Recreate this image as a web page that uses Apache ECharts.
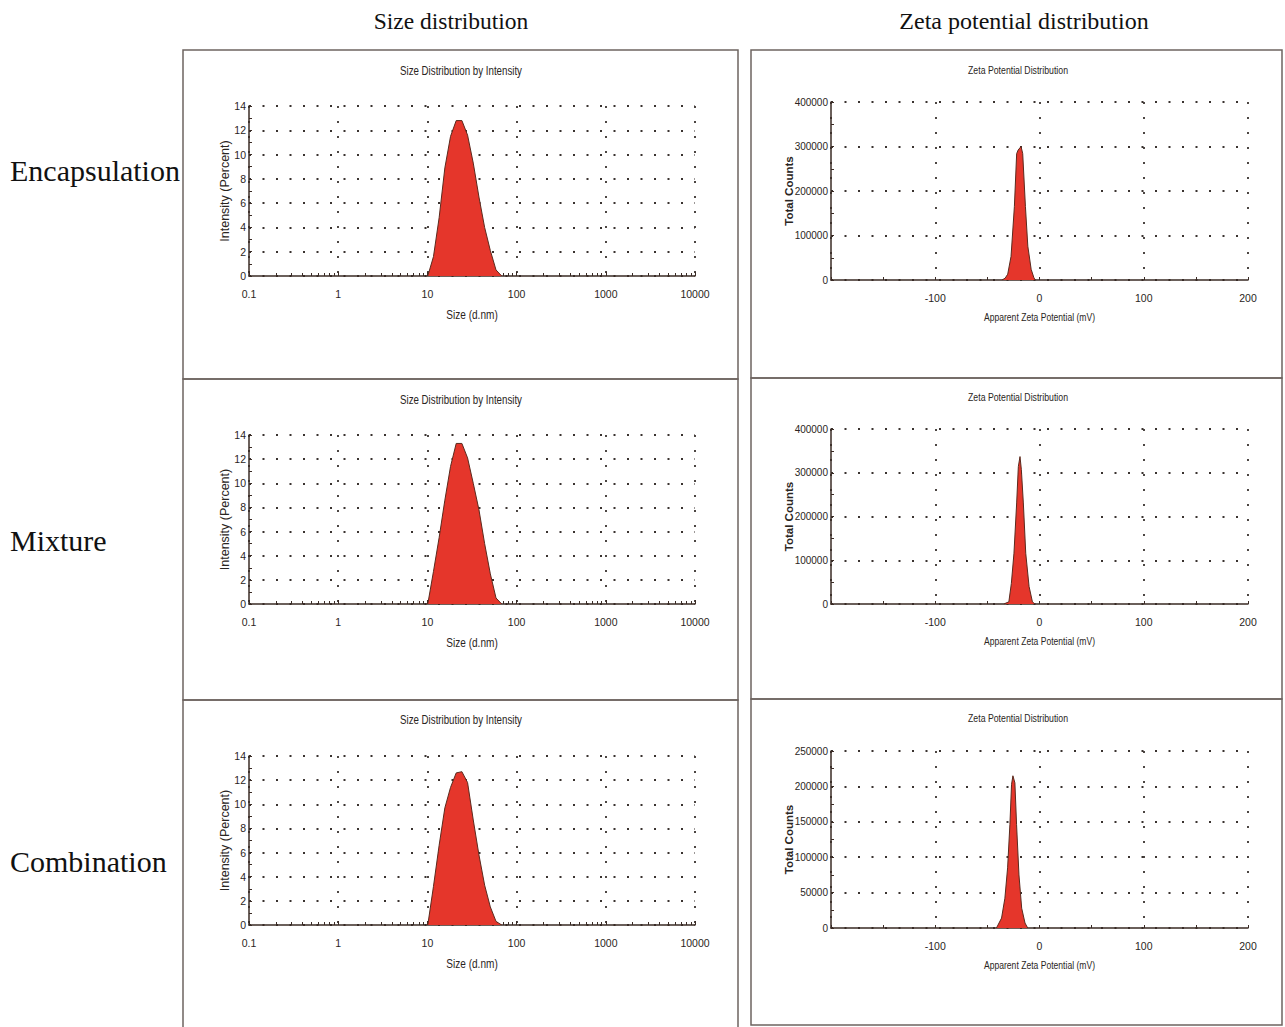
<!DOCTYPE html>
<html>
<head>
<meta charset="utf-8">
<script src="https://cdn.jsdelivr.net/npm/echarts@6/dist/echarts.min.js"></script>
<style>
  html, body { margin: 0; padding: 0; background: #ffffff; }
  #chart { width: 1285px; height: 1027px; }
</style>
</head>
<body>
<div id="chart"></div>
<script>
// ---------------- DATA ----------------
const columnHeaders = ['Size distribution', 'Zeta potential distribution'];
const rowLabels = ['Encapsulation', 'Mixture', 'Combination'];
const sizeTitle = 'Size Distribution by Intensity';
const zetaTitle = 'Zeta Potential Distribution';
const sizeXName = 'Size (d.nm)';
const sizeYName = 'Intensity (Percent)';
const zetaXName = 'Apparent Zeta Potential (mV)';
const zetaYName = 'Total Counts';

const sizeTickLabels = ['0.1', '1', '10', '100', '1000', '10000'];
const sizeMinorTicks = [0.2,0.3,0.4,0.5,0.6,0.7,0.8,0.9, 2,3,4,5,6,7,8,9, 20,30,40,50,60,70,80,90,
  200,300,400,500,600,700,800,900, 2000,3000,4000,5000,6000,7000,8000,9000];

// size bins (d.nm) and intensity (%)
const sizeBins = [10.1, 11.7, 13.54, 15.69, 18.17, 21.04, 24.36, 28.21, 32.67, 37.84, 43.82, 50.75, 58.77, 68.06];
const sizeEncapsulation = [0, 1.6, 4.8, 8.9, 11.5, 12.8, 12.8, 11.6, 9.3, 6.5, 4.0, 2.1, 0.5, 0];
const sizeMixture       = [0, 2.7, 5.5, 8.6, 11.4, 13.3, 13.3, 12.1, 10.0, 7.8, 5.0, 2.5, 0.5, 0];
const sizeCombination   = [0, 3.2, 6.6, 9.7, 11.4, 12.6, 12.7, 11.8, 8.7, 5.8, 3.3, 1.5, 0.3, 0];

// zeta potential (mV) and total counts
const zetaEncMv      = [-36, -33, -30.5, -27.3, -24.1, -21.9, -20.5, -17.7, -16.1, -13.5, -11.2, -8, -5.5, -4.2];
const zetaEncCounts  = [0, 4000, 13000, 53000, 165000, 284000, 292000, 300000, 284000, 165000, 76000, 24000, 6000, 0];
const zetaMixMv      = [-34.2, -29.4, -27, -24.5, -21.9, -20.3, -18.7, -17.4, -15.5, -13.2, -10, -6.8, -4.5];
const zetaMixCounts  = [0, 5000, 47000, 116000, 231000, 314000, 337000, 307000, 231000, 116000, 40000, 5000, 0];
const zetaCombMv     = [-41.3, -36.4, -33.2, -30.6, -28.4, -26.8, -25.5, -23.6, -22, -19.7, -17.1, -13.9, -11.3];
const zetaCombCounts = [0, 14000, 42000, 85000, 146000, 203000, 215000, 205000, 146000, 75000, 28000, 7000, 0];

const zetaYMax = [400000, 400000, 250000];
const zetaYInterval = [100000, 100000, 50000];
const zetaXMin = -200, zetaXMax = 200, zetaXInterval = 100;

// ---------------- LAYOUT / STYLE ----------------
const sans = "'Liberation Sans', Arial, sans-serif";
const serif = "'Liberation Serif', 'Times New Roman', serif";
const axisColor = '#3a2b25';
const gridDot = '#3a3330';
const textColor = '#2a2522';
const fillRed = '#e5362b';
const edge = '#5a2a1e';

const sizeGrids = [
  { left: 249, top: 106, width: 446, height: 170 },
  { left: 249, top: 435, width: 446, height: 169 },
  { left: 249, top: 756, width: 446, height: 169 }
];
const zetaGrids = [
  { left: 831, top: 102, width: 417, height: 178 },
  { left: 831, top: 429, width: 417, height: 175 },
  { left: 831, top: 751, width: 417, height: 177 }
];

function zip(a, b) { return a.map((v, i) => [v, b[i]]); }
const sizeSeriesData = [
  zip(sizeBins, sizeEncapsulation),
  zip(sizeBins, sizeMixture),
  zip(sizeBins, sizeCombination)
];
const zetaSeriesData = [
  zip(zetaEncMv, zetaEncCounts),
  zip(zetaMixMv, zetaMixCounts),
  zip(zetaCombMv, zetaCombCounts)
];

const grids = [], xAxes = [], yAxes = [], series = [], graphics = [];
const labelFont = { fontFamily: sans, fontSize: 10.5, color: textColor };
const hDots = { color: gridDot, width: 1.8, type: [2, 11.5] };
const vDots = { color: gridDot, width: 1.8, type: [2, 13] };

function narrowText(x, y, text, size, sx) {
  graphics.push({ type: 'text', silent: true, x: x, y: y, scaleX: sx,
    style: { text: text, textAlign: 'center', textVerticalAlign: 'middle',
      fontFamily: sans, fontSize: size, fill: textColor } });
}

for (let r = 0; r < 3; r++) {
  // ---- size panel ----
  const gi = grids.length;
  const sg = sizeGrids[r];
  grids.push(Object.assign({ containLabel: false }, sg));
  xAxes.push({
    type: 'log', logBase: 10, gridIndex: gi, min: 0.1, max: 10000, splitNumber: 5, position: 'bottom',
    axisLine: { show: true, onZero: false, lineStyle: { color: axisColor, width: 1.5 } },
    axisTick: { show: true, inside: true, length: 4, lineStyle: { color: axisColor, width: 1 } },
    axisLabel: Object.assign({ margin: 12, formatter: v => sizeTickLabels[Math.round(Math.log10(v)) + 1] }, labelFont),
    splitLine: { show: true, lineStyle: vDots }
  });
  const mainX = xAxes.length - 1;
  // minor log ticks (2..9 in each decade)
  xAxes.push({
    type: 'log', logBase: 10, gridIndex: gi, min: 0.1, max: 10000, position: 'bottom', offset: 0,
    axisLine: { show: false },
    axisTick: { show: true, inside: true, length: 3, customValues: sizeMinorTicks, lineStyle: { color: axisColor, width: 1 } },
    axisLabel: { show: false },
    splitLine: { show: false }
  });
  yAxes.push({
    type: 'value', gridIndex: gi, min: 0, max: 14, interval: 2,
    name: sizeYName, nameLocation: 'middle', nameGap: 18, nameRotate: 90, nameMoveOverlap: false,
    nameTextStyle: { fontFamily: sans, fontSize: 12.5, color: textColor },
    axisLine: { show: true, onZero: false, lineStyle: { color: axisColor, width: 1.5 } },
    axisTick: { show: true, inside: true, length: 3, lineStyle: { color: axisColor } },
    minorTick: { show: true, splitNumber: 2, length: 3, lineStyle: { color: axisColor } },
    axisLabel: Object.assign({ margin: 3 }, labelFont),
    splitLine: { show: true, lineStyle: hDots }
  });
  series.push({
    type: 'line', xAxisIndex: mainX, yAxisIndex: yAxes.length - 1,
    data: sizeSeriesData[r], showSymbol: false, smooth: false,
    lineStyle: { color: edge, width: 1 }, areaStyle: { color: fillRed, opacity: 1 },
    silent: true, z: 5
  });
  narrowText(sg.left + sg.width / 2, sg.top + sg.height + 39, sizeXName, 12, 0.84);

  // ---- zeta panel ----
  const gj = grids.length;
  const zg = zetaGrids[r];
  grids.push(Object.assign({ containLabel: false }, zg));
  xAxes.push({
    type: 'value', gridIndex: gj, min: zetaXMin, max: zetaXMax, interval: zetaXInterval, position: 'bottom',
    axisLine: { show: true, onZero: false, lineStyle: { color: axisColor, width: 1.5 } },
    axisTick: { show: true, inside: true, length: 3, lineStyle: { color: axisColor } },
    minorTick: { show: true, splitNumber: 2, length: 3, lineStyle: { color: axisColor } },
    axisLabel: Object.assign({ margin: 12, formatter: v => (v === zetaXMin ? '' : String(v)) }, labelFont),
    splitLine: { show: true, lineStyle: vDots }
  });
  yAxes.push({
    type: 'value', gridIndex: gj, min: 0, max: zetaYMax[r], interval: zetaYInterval[r],
    name: zetaYName, nameLocation: 'middle', nameGap: 36, nameRotate: 90, nameMoveOverlap: false,
    nameTextStyle: { fontFamily: sans, fontSize: 11.5, fontWeight: 'bold', color: textColor },
    axisLine: { show: true, onZero: false, lineStyle: { color: axisColor, width: 1.5 } },
    axisTick: { show: true, inside: true, length: 3, lineStyle: { color: axisColor } },
    minorTick: { show: true, splitNumber: 2, length: 3, lineStyle: { color: axisColor } },
    axisLabel: Object.assign({ margin: 3, formatter: v => String(v) }, labelFont, { fontSize: 10 }),
    splitLine: { show: true, lineStyle: hDots }
  });
  series.push({
    type: 'line', xAxisIndex: xAxes.length - 1, yAxisIndex: yAxes.length - 1,
    data: zetaSeriesData[r], showSymbol: false, smooth: false,
    lineStyle: { color: edge, width: 1 }, areaStyle: { color: fillRed, opacity: 1 },
    silent: true, z: 5
  });
  narrowText(zg.left + zg.width / 2, zg.top + zg.height + 37, zetaXName, 11, 0.78);
}

// frames
const leftFrames = [[183, 50, 555, 329], [183, 379, 555, 321], [183, 700, 555, 330]];
const rightFrames = [[751, 50, 531, 328], [751, 378, 531, 321], [751, 699, 531, 326]];
leftFrames.concat(rightFrames).forEach(f => {
  graphics.push({ type: 'rect', silent: true, z: 0,
    shape: { x: f[0], y: f[1], width: f[2], height: f[3] },
    style: { fill: 'none', stroke: '#6e6460', lineWidth: 1.5 } });
});

// panel titles
const sizeTitleY = [71, 400, 720];
const zetaTitleY = [70, 397, 718];
for (let r = 0; r < 3; r++) {
  narrowText(461, sizeTitleY[r], sizeTitle, 12, 0.81);
  narrowText(1018, zetaTitleY[r], zetaTitle, 11.5, 0.76);
}
// column headers
graphics.push({ type: 'text', silent: true, x: 451, y: 21,
  style: { text: columnHeaders[0], textAlign: 'center', textVerticalAlign: 'middle', fontFamily: serif, fontSize: 23.5, fill: '#111' } });
graphics.push({ type: 'text', silent: true, x: 1024, y: 21,
  style: { text: columnHeaders[1], textAlign: 'center', textVerticalAlign: 'middle', fontFamily: serif, fontSize: 24, fill: '#111' } });
// row labels
const rowLabelY = [170, 540, 861];
rowLabels.forEach((t, i) => {
  graphics.push({ type: 'text', silent: true, x: 10, y: rowLabelY[i],
    style: { text: t, textAlign: 'left', textVerticalAlign: 'middle', fontFamily: serif, fontSize: 30, fill: '#111' } });
});

const chart = echarts.init(document.getElementById('chart'), null, { renderer: 'svg', width: 1285, height: 1027 });
chart.setOption({
  backgroundColor: '#ffffff',
  animation: false,
  grid: grids,
  xAxis: xAxes,
  yAxis: yAxes,
  series: series,
  graphic: graphics
});
</script>
</body>
</html>
